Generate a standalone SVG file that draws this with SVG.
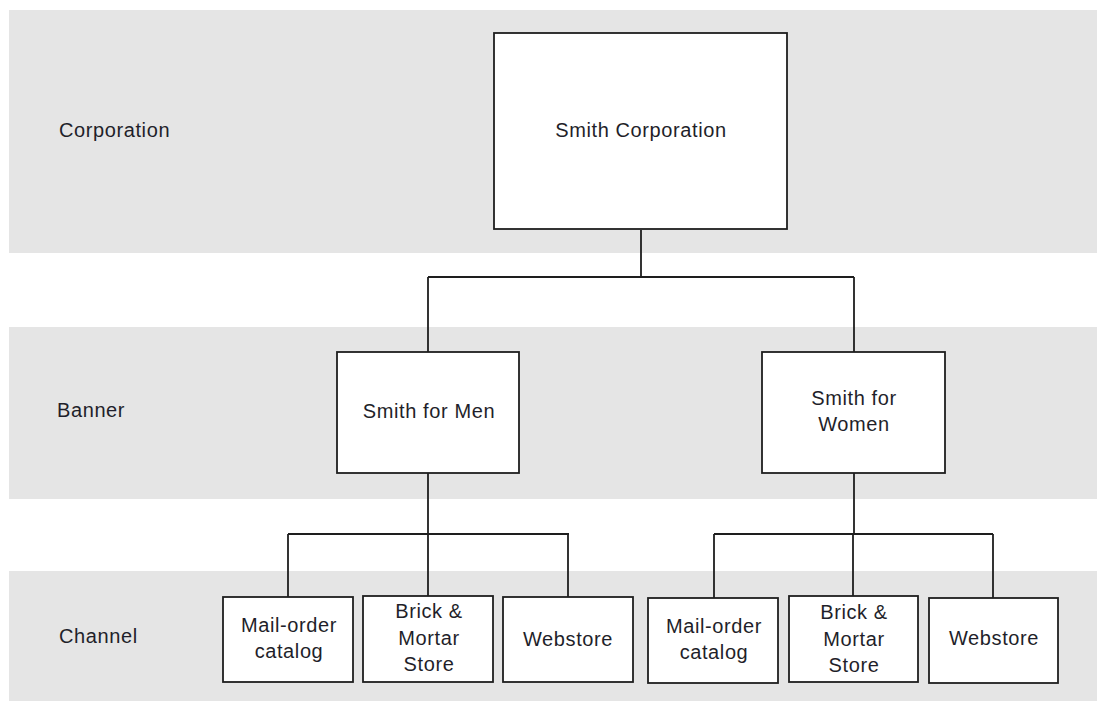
<svg xmlns="http://www.w3.org/2000/svg" width="1097" height="702" viewBox="0 0 1097 702">
<style>
.band{fill:#e5e5e5}
.box{fill:#fff;stroke:#1e1e1e;stroke-width:1.8}
.t{font-family:"Liberation Sans",Arial,sans-serif;font-size:20px;fill:#1f1f2a;letter-spacing:0.6px}
.c{text-anchor:middle}
.ln{stroke:#1e1e1e;stroke-width:1.8;fill:none}
</style>
<rect width="1097" height="702" fill="#fff"/>
<g id="bands">
<rect class="band" x="9" y="10" width="1088" height="243"/>
<rect class="band" x="9" y="327" width="1088" height="172"/>
<rect class="band" x="9" y="571" width="1088" height="130"/>
<text class="t" x="59" y="137">Corporation</text>
<text class="t" x="57" y="417">Banner</text>
<text class="t" x="59" y="643">Channel</text>
</g>
<g id="connectors">
<path class="ln" d="M641,230 V277 M428,277 H854 M428,277 V352 M854,277 V352"/>
<path class="ln" d="M428,473 V534 M288,534 H569 M288,534 V597 M428,534 V597 M568,534 V597"/>
<path class="ln" d="M854,473 V534 M714,534 H993 M714,534 V598 M853,534 V596 M993,534 V598"/>
</g>
<g id="corp">
<rect class="box" x="494" y="33" width="293" height="196"/>
<text class="t c" x="641" y="137">Smith Corporation</text>
</g>
<g id="men">
<rect class="box" x="337" y="352" width="182" height="121"/>
<text class="t c" x="429" y="418">Smith for Men</text>
</g>
<g id="women">
<rect class="box" x="762" y="352" width="183" height="121"/>
<text class="t c" x="854" y="405">Smith for</text>
<text class="t c" x="854" y="431">Women</text>
</g>
<g id="men-mail">
<rect class="box" x="223" y="597" width="130" height="85"/>
<text class="t c" x="289" y="632">Mail-order</text>
<text class="t c" x="289" y="658">catalog</text>
</g>
<g id="men-brick">
<rect class="box" x="363" y="596" width="130" height="86"/>
<text class="t c" x="429" y="618">Brick &amp;</text>
<text class="t c" x="429" y="645">Mortar</text>
<text class="t c" x="429" y="671">Store</text>
</g>
<g id="men-web">
<rect class="box" x="503" y="597" width="130" height="85"/>
<text class="t c" x="568" y="646">Webstore</text>
</g>
<g id="women-mail">
<rect class="box" x="648" y="598" width="130" height="85"/>
<text class="t c" x="714" y="633">Mail-order</text>
<text class="t c" x="714" y="659">catalog</text>
</g>
<g id="women-brick">
<rect class="box" x="789" y="596" width="129" height="86"/>
<text class="t c" x="854" y="619">Brick &amp;</text>
<text class="t c" x="854" y="646">Mortar</text>
<text class="t c" x="854" y="672">Store</text>
</g>
<g id="women-web">
<rect class="box" x="929" y="598" width="129" height="85"/>
<text class="t c" x="994" y="645">Webstore</text>
</g>
</svg>
